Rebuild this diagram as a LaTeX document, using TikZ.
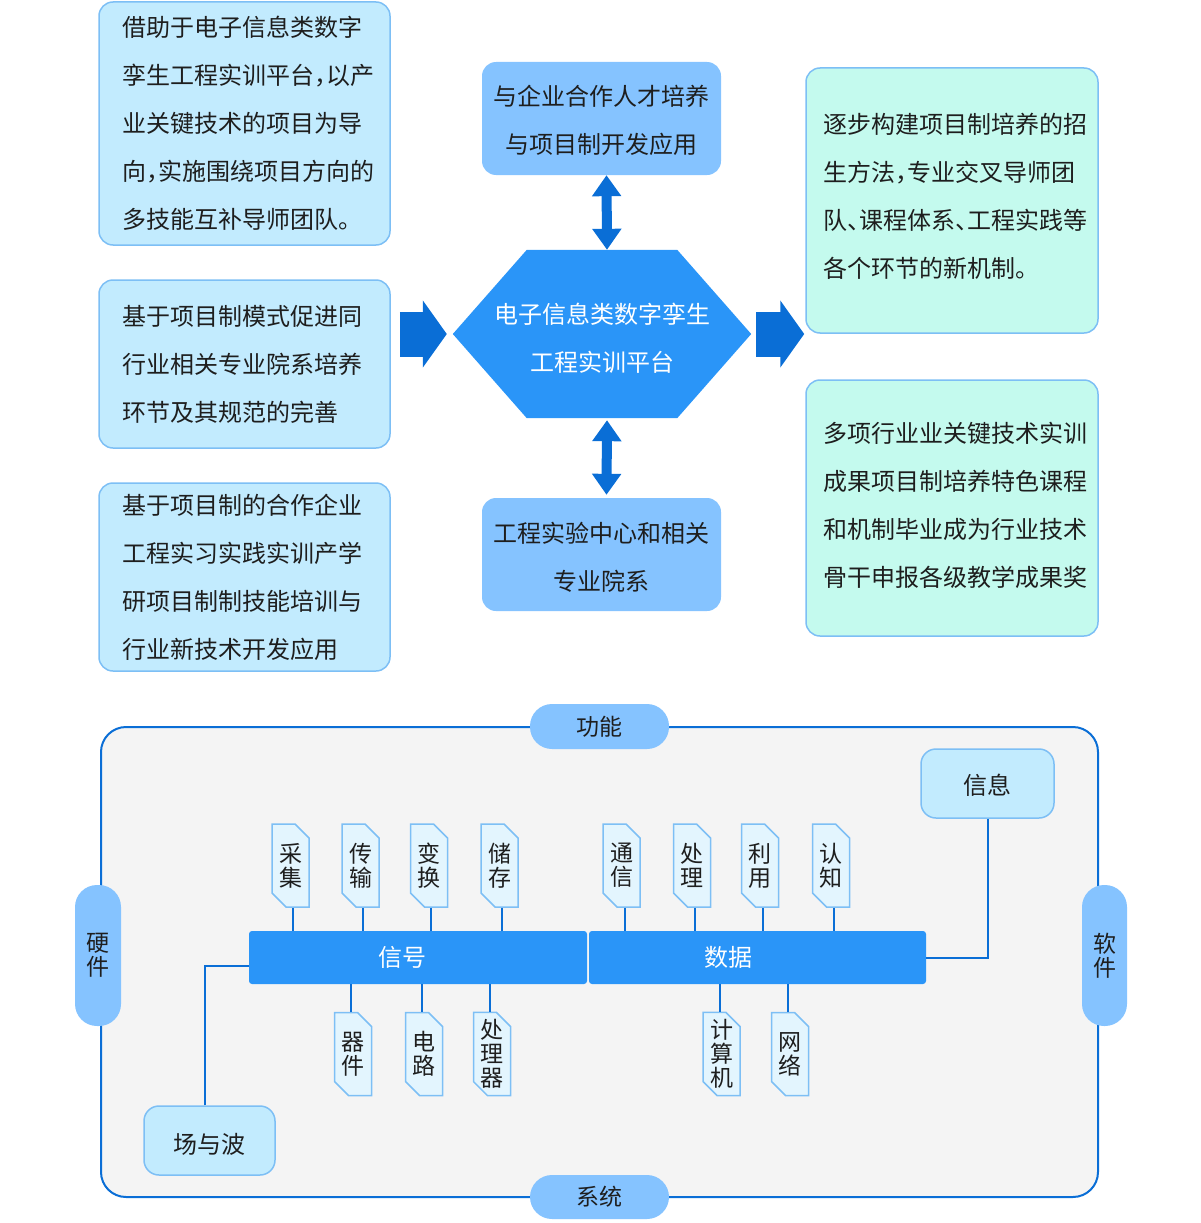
\documentclass[tikz,border=0pt]{standalone}
\usepackage{fontspec}
\setmainfont{Noto Sans CJK SC}
\usetikzlibrary{arrows.meta,shapes.misc,calc,backgrounds}
\definecolor{boxblue}{HTML}{C2EBFE}
\definecolor{mint}{HTML}{C4FAEE}
\definecolor{edgeblue}{HTML}{7DBFF5}
\definecolor{midblue}{HTML}{85C3FF}
\definecolor{brightblue}{HTML}{2A95F8}
\definecolor{darkblue}{HTML}{0A6ED6}
\definecolor{tagfill}{HTML}{E3F5FE}
\definecolor{panel}{HTML}{F4F4F4}
\definecolor{ink}{HTML}{1E1E1E}
\newcommand\hp[1]{\makebox[12pt][l]{#1}}
\begin{document}
\begin{tikzpicture}[x=1pt,y=-1pt,
  txt/.style={font=\fontsize{24}{48}\selectfont, text=ink},
  textbox/.style={txt, draw=edgeblue, line width=1.5pt, rounded corners=14pt, align=left, inner ysep=0pt},
  leftbox/.style={textbox, fill=boxblue, minimum width=291pt, text width=245pt, inner xsep=23pt},
  rightbox/.style={textbox, fill=mint, minimum width=292pt, text width=258pt, inner xsep=17pt},
  midbox/.style={txt, fill=midblue, rounded corners=14pt, minimum width=239pt, minimum height=113pt, align=center, inner sep=0pt},
  dbl/.style={draw=darkblue, line width=10pt, {Triangle[width=28pt,length=21pt]}-{Triangle[width=28pt,length=21pt]}},
  big/.style={draw=darkblue, line width=45pt, -{Triangle[width=66pt,length=24pt]}},
  conn/.style={draw=darkblue, line width=2pt},
  tag/.style={chamfered rectangle, chamfered rectangle corners={north east,south west},
    chamfered rectangle xsep=7pt, chamfered rectangle ysep=7pt,
    draw=edgeblue, line width=1.5pt, fill=tagfill, minimum width=36pt, minimum height=83pt,
    inner sep=0pt, align=center, font=\fontsize{23}{24}\selectfont, text=ink},
  bar/.style={fill=brightblue, rounded corners=3pt, minimum height=53pt, inner sep=0pt,
    text=white, font=\fontsize{24}{24}\selectfont, align=left},
  pill/.style={fill=midblue, rounded corners=22pt, inner sep=0pt, text=ink,
    font=\fontsize{23}{24}\selectfont, align=center},
  smallbox/.style={draw=edgeblue, line width=1.5pt, fill=boxblue, rounded corners=15pt,
    minimum height=69pt, inner sep=0pt, text=ink, font=\fontsize{24}{24}\selectfont}
]
\useasboundingbox (0,0) rectangle (1200,1223);

% ---------- upper part ----------
\node[leftbox, minimum height=243pt] (b1) at (244.5,123.5)
  {借助于电子信息类数字\\孪生工程实训平台\hp{，}以产\\业关键技术的项目为导\\向\hp{，}实施围绕项目方向的\\多技能互补导师团队。};
\node[leftbox, minimum height=168pt] (b2) at (244.5,364)
  {基于项目制模式促进同\\行业相关专业院系培养\\环节及其规范的完善};
\node[leftbox, minimum height=188pt] (b3) at (244.5,577)
  {基于项目制的合作企业\\工程实习实践实训产学\\研项目制制技能培训与\\行业新技术开发应用};
\node[rightbox, minimum height=265pt] (b4) at (952,200.5)
  {逐步构建项目制培养的招\\生方法\hp{，}专业交叉导师团\\队\hp{、}课程体系\hp{、}工程实践等\\各个环节的新机制。\rule[-10pt]{0pt}{10pt}};
\node[rightbox, minimum height=256pt] (b5) at (952,508)
  {多项行业业关键技术实训\\成果项目制培养特色课程\\和机制毕业成为行业技术\\骨干申报各级教学成果奖\rule[-8pt]{0pt}{8pt}};

\node[midbox] (top) at (601.5,118.5) {\rule{0pt}{25pt}与企业合作人才培养\\与项目制开发应用};
\node[midbox] (bot) at (601.5,554.5) {\rule{0pt}{25pt}工程实验中心和相关\\专业院系};

\node[minimum width=298pt, minimum height=168pt, inner sep=0pt, align=center,
      text=white, font=\fontsize{24}{48}\selectfont] (hex) at (602,334)
  {\rule{0pt}{29pt}电子信息类数字孪生\\工程实训平台};
\begin{scope}[on background layer]
\fill[brightblue] (hex.west) -- ($(hex.north west)+(74,0)$) -- ($(hex.north east)+(-74,0)$)
  -- (hex.east) -- ($(hex.south east)+(-74,0)$) -- ($(hex.south west)+(74,0)$) -- cycle;
\end{scope}

\draw[dbl] ([xshift=5pt]top.south) -- ([xshift=5pt]hex.north);
\draw[dbl] ([xshift=5pt,yshift=-2pt]hex.south) -- ([xshift=5pt,yshift=3pt]bot.north);
\draw[big] ($(b2.east |- hex.west)+(9,0)$) -- ($(hex.west)+(-6,0)$);
\draw[big] ($(hex.east)+(5,0)$) -- ($(b4.west |- hex.east)+(-1,0)$);

% ---------- lower part ----------
\node[draw=darkblue, line width=2pt, fill=panel, rounded corners=25pt,
      minimum width=997pt, minimum height=470pt] (frame) at (599.5,962) {};

\node[pill, minimum width=139pt, minimum height=45pt] (fn) at (599.5,726.5) {功能};
\node[pill, minimum width=139pt, minimum height=44pt] (sys) at (599.5,1197) {系统};
\node[pill, minimum width=46pt, minimum height=141pt] (hw) at (98,955.5) {硬\\件};
\node[pill, minimum width=45pt, minimum height=141pt] (sw) at (1104.5,955.5) {软\\件};

\node[bar, minimum width=338pt, text width=338pt] (sig) at (418,957.5) {\hspace*{129pt}信号};
\node[bar, minimum width=337pt, text width=337pt] (dat) at (757.5,957.5) {\hspace*{115pt}数据};

\node[smallbox, minimum width=133pt] (info) at (987.5,783.5) {\rule{0pt}{24pt}信息};
\node[smallbox, minimum width=131pt] (wave) at (209.5,1140.5) {\rule{0pt}{28pt}场与波};

\draw[conn] (info.south) |- (dat.east);
\draw[conn] ([xshift=-5pt]wave.north) |- ([yshift=-8.5pt]sig.west);

% top tags
\node[tag] (t1) at (290.5,865.5) {采\\集};
\node[tag] (t2) at (360.5,865.5) {传\\输};
\node[tag] (t3) at (429,865.5) {变\\换};
\node[tag] (t4) at (499.5,865.5) {储\\存};
\node[tag] (t5) at (621.5,865.5) {通\\信};
\node[tag] (t6) at (692,865.5) {处\\理};
\node[tag] (t7) at (760,865.5) {利\\用};
\node[tag] (t8) at (831,865.5) {认\\知};
\foreach \n in {t1,t2,t3,t4} \draw[conn] ([xshift=2pt]\n.south) -- ([xshift=2pt]\n.south |- sig.north);
\foreach \n in {t5,t6,t7,t8} \draw[conn] ([xshift=3pt]\n.south) -- ([xshift=3pt]\n.south |- dat.north);

% bottom tags
\node[tag] (u1) at (353,1054) {器\\件};
\node[tag] (u2) at (424,1054) {电\\路};
\node[tag] (u3) at (492,1054) {处\\理\\器};
\node[tag] (u4) at (721.5,1054) {计\\算\\机};
\node[tag] (u5) at (790,1054) {网\\络};
\foreach \n in {u1,u2,u3} \draw[conn] ([xshift=-2pt]\n.north) -- ([xshift=-2pt]\n.north |- sig.south);
\foreach \n in {u4,u5} \draw[conn] ([xshift=-2pt]\n.north) -- ([xshift=-2pt]\n.north |- dat.south);
\end{tikzpicture}
\end{document}
